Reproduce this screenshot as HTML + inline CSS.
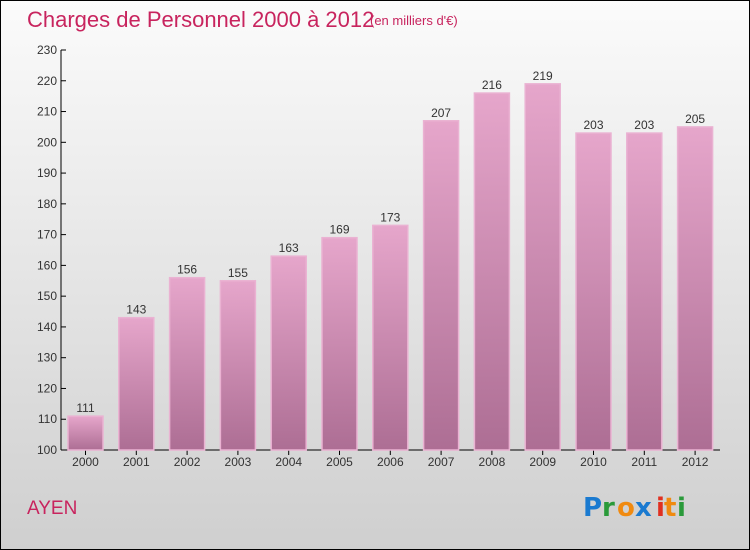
<!DOCTYPE html>
<html><head><meta charset="utf-8"><style>
html,body{margin:0;padding:0}
body{width:750px;height:550px;overflow:hidden;font-family:"Liberation Sans",sans-serif}
#c{position:absolute;left:0;top:0;width:748px;height:548px;border:1px solid #000;background:linear-gradient(#fbfbfb,#cfcfcf)}
</style></head><body>
<div id="c">
<svg width="750" height="550" style="position:absolute;left:-1px;top:-1px">
<defs>
<linearGradient id="bg" x1="0" y1="0" x2="0" y2="1"><stop offset="0" stop-color="#e6a6cb"/><stop offset="1" stop-color="#ad6e94"/></linearGradient>
</defs>
<text x="27" y="27" font-size="22" fill="#c8245e">Charges de Personnel 2000 à 2012</text>
<text x="370" y="25" font-size="13" fill="#c8245e">(en milliers d'€)</text>
<g id="axes"></g>
<g id="bars"></g>
<text x="27" y="514" font-size="19" fill="#c8245e">AYEN</text>
<g font-size="26" font-weight="bold" font-family="'DejaVu Sans',sans-serif">
<text x="583" y="516" fill="#1a7ad0">P</text><text x="602" y="516" fill="#2a9a3a">r</text><text x="617" y="516" fill="#f08a10">o</text><text x="635" y="516" fill="#1a7ad0">x</text><text x="656" y="516" fill="#e03020">i</text><text x="664" y="516" fill="#f08a10">t</text><text x="677" y="516" fill="#2a9a3a">i</text>
</g>
</svg>
</div>
<script>
const categories=["2000","2001","2002","2003","2004","2005","2006","2007","2008","2009","2010","2011","2012"];
const values=[111,143,156,155,163,169,173,207,216,219,203,203,205];
const yTicks=[100,110,120,130,140,150,160,170,180,190,200,210,220,230];
const NS="http://www.w3.org/2000/svg";
const y=v=>450-(v-100)*400/130;
const x=i=>85.5+i*50.8;
function mk(t,a,p){const e=document.createElementNS(NS,t);for(const k in a)e.setAttribute(k,a[k]);p.appendChild(e);return e;}
const ax=document.getElementById('axes'),bg=document.getElementById('bars');
const yl=mk('line',{x1:61,y1:50,x2:61,y2:450,stroke:'#000'},ax);


const xl=mk('line',{x1:61,y1:450,x2:720,y2:450,stroke:'#000'},ax);


yTicks.forEach(v=>{
 mk('line',{x1:61,x2:66,y1:y(v),y2:y(v),stroke:'#000'},ax);
 const t=mk('text',{x:57,y:y(v)+4,'font-size':12,fill:'#333','text-anchor':'end'},ax);
 t.textContent=v;
 
 
});
categories.forEach((c,i)=>{
 mk('line',{x1:x(i),x2:x(i),y1:450,y2:455,stroke:'#000'},ax);
 const t=mk('text',{x:x(i),y:466,'font-size':12,fill:'#333','text-anchor':'middle'},ax);
 t.textContent=c;
 
 
 const r=mk('rect',{x:x(i)-17.5,y:y(values[i]),width:35,height:450-y(values[i]),fill:'url(#bg)',stroke:'#eab2d2','stroke-width':1.5},bg);
 
 
 const l=mk('text',{x:x(i),y:y(values[i])-4,'font-size':12,fill:'#333','text-anchor':'middle'},bg);
 l.textContent=values[i];
 
 
});
</script>
</body></html>
